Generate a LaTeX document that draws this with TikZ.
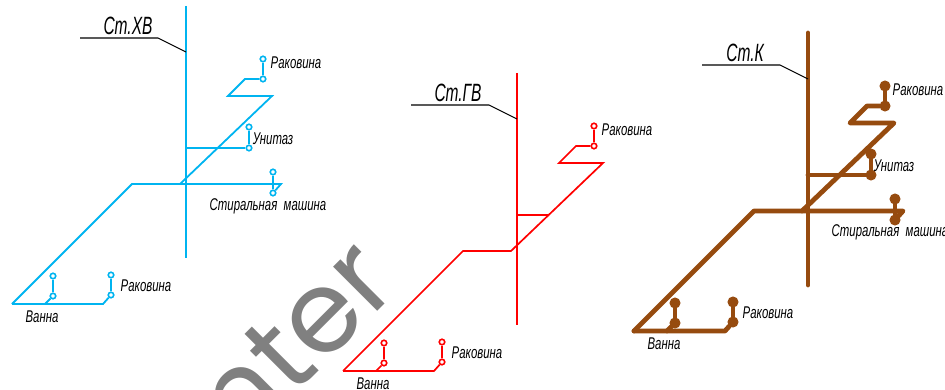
\documentclass[tikz,border=0pt]{standalone}
\usepackage{fontspec}
\setmainfont{Liberation Sans}
\newfontfamily\markfont{Poppins}
\definecolor{pipeblue}{RGB}{0,180,240}
\definecolor{pipebrown}{RGB}{150,75,15}
\tikzset{
    lbl/.style={font=\itshape\fontsize{17}{17}\selectfont,xscale=.67,inner sep=0},
    stlbl/.style={font=\itshape\fontsize{25}{25}\selectfont,xscale=.62,inner sep=0},
    leader/.style={draw=black,line width=1.1pt},
    pipex/.style={draw=pipeblue,line width=1.8pt},
    pipeg/.style={draw=red,line width=1.7pt},
    pipek/.style={draw=pipebrown,line width=4.8pt,line cap=round,line join=round},
    fixx/.style={circle,draw=pipeblue,fill=white,line width=1.6pt,inner sep=0,minimum size=5.5pt},
    fixg/.style={circle,draw=red,fill=white,line width=1.6pt,inner sep=0,minimum size=5.5pt},
    fixk/.style={circle,draw=pipebrown,fill=pipebrown,line width=1pt,inner sep=0,minimum size=10pt},
}
\begin{document}
\begin{tikzpicture}[x=1pt,y=-1pt]
    \useasboundingbox (0,0) rectangle (945,390);
    \clip (0,0) rectangle (945,390);
    % watermark
    \node[rotate=45,text=black!50,inner sep=0,font=\markfont\fontsize{114}{114}\selectfont] (mark) at (294,341) {nter};

    \foreach \s/\dx/\dy/\lx/\st in {x/0/0/128/Ст.ХВ, g/331/67/127/Ст.ГВ, k/622/27/123/Ст.К} {
        \begin{scope}[shift={(\dx,\dy)}]
            % riser and leader
            \coordinate (rtop\s) at (186,6);
            \coordinate (rbot\s) at (186,258);
            \draw[pipe\s] (rtop\s) -- (rbot\s);
            \coordinate (lead\s) at (80,38);
            \coordinate (bend\s) at (158,38);
            \coordinate (tap\s) at (186,52);
            \draw[leader] (lead\s) -- (bend\s) -- (tap\s);
            \node[stlbl] (name\s) at (\lx,26) {\st};
            % main line
            \coordinate (end\s) at (12,304);
            \coordinate (knee\s) at (132,184);
            \coordinate (mid\s) at (180,184);
            \coordinate (up\s) at (272,96);
            \coordinate (back\s) at (228,96);
            \coordinate (off\s) at (245,79);
            \node[fix\s] (sinkA\s) at (263,79) {};
            \node[fix\s] (sinkAtop\s) at (263,59) {};
            \draw[pipe\s] (end\s) -- (knee\s) -- (mid\s) -- (up\s) -- (back\s) -- (off\s) -- (sinkA\s);
            \draw[pipe\s] (sinkA\s) -- (sinkAtop\s);
            \node[lbl] (sinkAlbl\s) at (296,63) {Раковина};
            % bath and sink
            \coordinate (turn\s) at (103,304);
            \coordinate (bathtap\s) at (45,304);
            \node[fix\s] (sinkB\s) at (111,295) {};
            \node[fix\s] (sinkBtop\s) at (111,275) {};
            \node[fix\s] (bath\s) at (53,296) {};
            \node[fix\s] (bathtop\s) at (53,276) {};
            \draw[pipe\s] (end\s) -- (turn\s) -- (sinkB\s);
            \draw[pipe\s] (sinkB\s) -- (sinkBtop\s);
            \draw[pipe\s] (bathtap\s) -- (bath\s);
            \draw[pipe\s] (bath\s) -- (bathtop\s);
            \node[lbl] (sinkBlbl\s) at (146,286) {Раковина};
            \node[lbl] (bathlbl\s) at (42,317) {Ванна};
        \end{scope}
    }

    % toilet and washer, cold water
    \coordinate (wcx) at (186,148);
    \node[fixx] (wcAx) at (249,148) {};
    \node[fixx] (wcBx) at (249,127) {};
    \draw[pipex] (wcx) -- (wcAx);
    \draw[pipex] (wcAx) -- (wcBx);
    \node[lbl] (wclblx) at (273,139) {Унитаз};
    \coordinate (washx) at (281,184);
    \node[fixx] (washAx) at (273,193) {};
    \node[fixx] (washBx) at (273,172) {};
    \draw[pipex] (midx) -- (washx) -- (washAx);
    \draw[pipex] (washAx) -- (washBx);
    \node[lbl] (washlblx) at (268,206) {Стиральная\ \ машина};

    % branch, hot water
    \coordinate (wcg) at (517,215);
    \coordinate (wcAg) at (549,215);
    \draw[pipeg] (wcg) -- (wcAg);

    % toilet and washer, sewer
    \coordinate (wck) at (808,175);
    \node[fixk] (wcAk) at (871,175) {};
    \node[fixk] (wcBk) at (871,154) {};
    \draw[pipek] (wck) -- (wcAk);
    \draw[pipek] (wcAk) -- (wcBk);
    \node[lbl] (wclblk) at (894,166) {Унитаз};
    \coordinate (washk) at (903,211);
    \node[fixk] (washAk) at (895,220) {};
    \node[fixk] (washBk) at (895,199) {};
    \draw[pipek] (midk) -- (washk) -- (washAk);
    \draw[pipek] (washAk) -- (washBk);
    \node[lbl] (washlblk) at (890,232) {Стиральная\ \ машина};
\end{tikzpicture}
\end{document}
